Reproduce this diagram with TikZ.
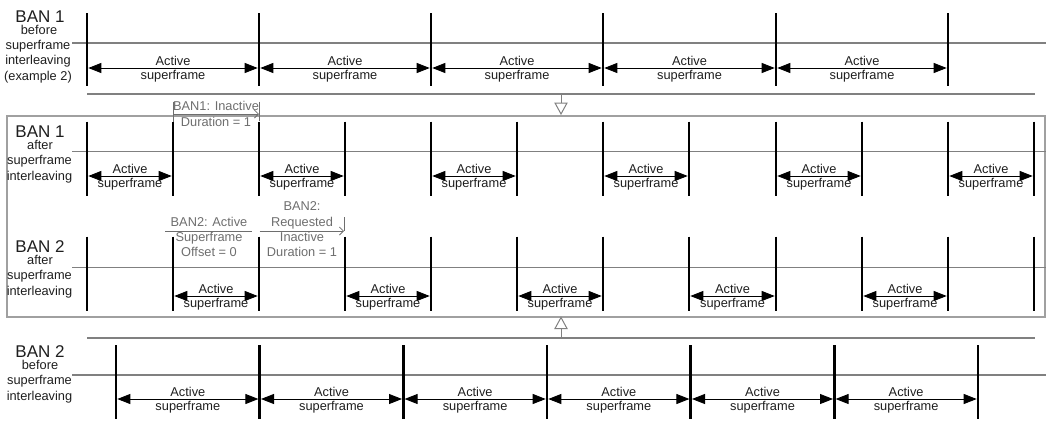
\documentclass[tikz,border=0pt]{standalone}
\usepackage{fontspec}
\setmainfont{Liberation Sans}
\usetikzlibrary{arrows.meta}
\definecolor{tl}{HTML}{808080}
\definecolor{ann}{HTML}{6E6E6E}
\definecolor{txt}{HTML}{1E1E1E}
\definecolor{boxc}{HTML}{A0A0A0}
\tikzset{
  bar/.style={line width=2.8pt, draw=black},
  tline/.style={line width=1.3pt, draw=tl},
  dim/.style={line width=0.9pt, draw=black, shorten <=1.3pt, shorten >=1.3pt,
    {Triangle[length=13pt,width=10pt]}-{Triangle[length=13pt,width=10pt]}},
  lbl/.style={font=\fontsize{12.8}{15}\selectfont, text=txt, inner sep=0pt, anchor=base},
  big/.style={font=\fontsize{17}{18}\selectfont, text=txt, inner sep=0pt, anchor=base},
  annt/.style={lbl, text=ann},
  aline/.style={draw=ann, line width=0.8pt},
  tri/.style={draw=tl, line width=1pt, fill=white, line join=miter}
}
\newcommand\actpair[2]{\draw[dim] (#1) -- node[lbl,yshift=3pt]{Active} node[lbl,yshift=-11pt]{superframe} (#2);}
\begin{document}
\begin{tikzpicture}[x=1pt,y=-1pt]
\useasboundingbox (0,0) rectangle (1046,421);

% ---------- frame box and timelines ----------
\draw[draw=boxc, line width=1.3pt] (7,116) rectangle (1045,317);
\draw[tline] (72,43) -- (1046,43);
\draw[tline] (87,94) -- (1035,94);
\draw[tline] (72,151.5) -- (1046,151.5);
\draw[tline] (72,267.5) -- (1046,267.5);
\draw[tline] (87,338) -- (1035,338);
\draw[tline] (72,375) -- (1046,375);

% ---------- row 1: BAN 1 before ----------
\foreach \x [count=\i] in {87,259,431,603,776,948} {
  \draw[bar] (\x,13) -- (\x,86);
  \coordinate (pa\i) at (\x,68);
}
\foreach \i/\j in {1/2,2/3,3/4,4/5,5/6} { \actpair{pa\i}{pa\j} }

% ---------- row 2: BAN 1 after ----------
\foreach \x [count=\i] in {87,173,259,345,431,517,603,689,776,862,948,1034} {
  \draw[bar] (\x,121.5) -- (\x,195.5);
  \coordinate (pb\i) at (\x,176);
}
\foreach \i/\j in {1/2,3/4,5/6,7/8,9/10,11/12} { \actpair{pb\i}{pb\j} }

% ---------- row 3: BAN 2 after ----------
\foreach \x [count=\i] in {87,173,259,345,431,517,603,689,776,862,948,1034} {
  \draw[bar] (\x,236.5) -- (\x,310.5);
  \coordinate (pc\i) at (\x,296);
}
\foreach \i/\j in {2/3,4/5,6/7,8/9,10/11} { \actpair{pc\i}{pc\j} }

% ---------- row 4: BAN 2 before ----------
\foreach \x [count=\i] in {116,259.7,403.3,547,690.7,834.3,978} {
  \draw[bar] (\x,345) -- (\x,419);
  \coordinate (pd\i) at (\x,399);
}
\foreach \i/\j in {1/2,2/3,3/4,4/5,5/6,6/7} { \actpair{pd\i}{pd\j} }

% ---------- transition triangles ----------
\coordinate (t1s) at (561,94);
\coordinate (t1b) at (561,103);
\draw[tline, line width=1pt] (t1s) -- (t1b);
\draw[tri] (555,103) -- (567,103) -- (561,114) -- cycle;
\coordinate (t2s) at (561,338);
\coordinate (t2b) at (561,328.5);
\draw[tline, line width=1pt] (t2s) -- (t2b);
\draw[tri] (555,328.5) -- (567,328.5) -- (561,317.5) -- cycle;

% ---------- annotations ----------
\coordinate (i1a) at (173,114);
\coordinate (i1b) at (259,114);
\draw[aline] (173,101.5) -- (173,122);
\draw[aline] (259,101.5) -- (259,121);
\draw[aline, -{Straight Barb[length=4pt,width=8pt]}] (i1a) -- (i1b);
\node[annt] (n1) at (216,110) {BAN1: Inactive};
\node[annt] (n2) at (216,126.5) {Duration = 1};

\coordinate (o1) at (165,231);
\coordinate (o2) at (252,231);
\draw[aline] (o1) -- (o2);
\node[annt] (n3) at (209,226) {BAN2: Active};
\node[annt] (n4) at (209,241.5) {Superframe};
\node[annt] (n5) at (209,256) {Offset = 0};

\coordinate (r1) at (259.5,231);
\coordinate (r2) at (344,231);
\draw[aline, -{Straight Barb[length=4pt,width=8pt]}] (r1) -- (r2);
\draw[aline] (344,217) -- (344,231);
\node[annt] (n6) at (302,210.5) {BAN2:};
\node[annt] (n7) at (302,226) {Requested};
\node[annt] (n8) at (302,241.5) {Inactive};
\node[annt] (n9) at (302,256) {Duration = 1};

% ---------- left labels ----------
\node[big] (l1) at (40,22) {BAN 1};
\node[lbl] (l1a) at (39,34) {before};
\node[lbl] (l1b) at (38,49) {superframe};
\node[lbl] (l1c) at (38,64.5) {interleaving};
\node[lbl] (l1d) at (38,80) {(example 2)};

\node[big] (l2) at (40,137) {BAN 1};
\node[lbl] (l2a) at (40,149) {after};
\node[lbl] (l2b) at (39.5,164.5) {superframe};
\node[lbl] (l2c) at (39.5,180) {interleaving};

\node[big] (l3) at (40,252) {BAN 2};
\node[lbl] (l3a) at (40,264) {after};
\node[lbl] (l3b) at (39.5,279.5) {superframe};
\node[lbl] (l3c) at (39.5,295) {interleaving};

\node[big] (l4) at (40,357) {BAN 2};
\node[lbl] (l4a) at (40,369) {before};
\node[lbl] (l4b) at (39.5,384.5) {superframe};
\node[lbl] (l4c) at (39.5,400) {interleaving};
\end{tikzpicture}
\end{document}
